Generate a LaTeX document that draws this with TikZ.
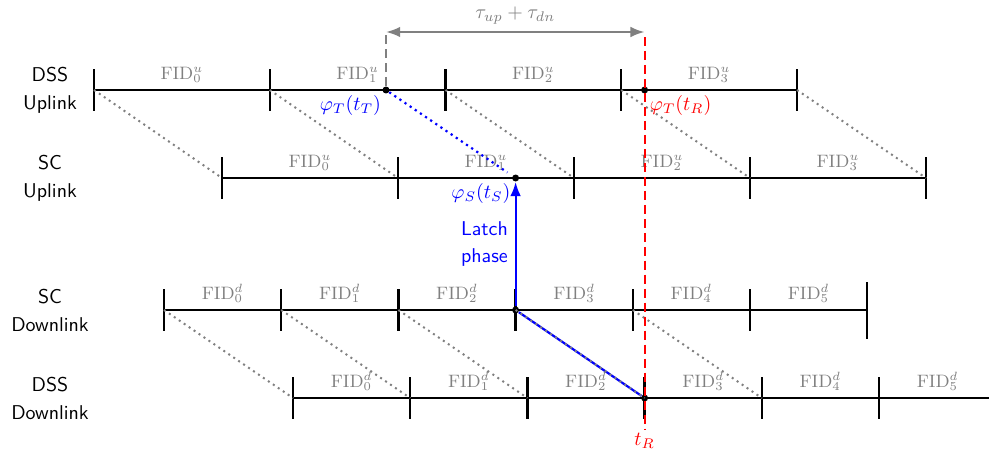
\documentclass[tikz,border=0pt]{standalone}
\usepackage{amsmath}
\usetikzlibrary{arrows.meta,positioning}

\begin{document}
\begin{tikzpicture}[
    x=0.0176cm, y=-0.0176cm,
    rowname/.style={font=\sffamily, align=center},
    timeline/.style={line width=1.1pt},
    tickmark/.style={line width=1.2pt},
    fid/.style={above, text=gray, font=\small},
    delay/.style={gray, dotted, line width=1pt},
    dot/.style={circle, fill, inner sep=0pt, minimum size=3.5pt},
    arrow/.style={-{Latex[length=2.5mm]}, line width=1.1pt},
    marker/.style={dash pattern=on 4.5pt off 2.5pt, line width=1.1pt}
  ]
  \useasboundingbox (0,0) rectangle (989,450);

  \node[rowname] (dssul) at (50,90) {DSS\\[2pt]Uplink};
  \node[rowname] (scul) at (50,178) {SC\\[2pt]Uplink};
  \node[rowname] (scdl) at (50,310) {SC\\[2pt]Downlink};
  \node[rowname] (dssdl) at (50,398) {DSS\\[2pt]Downlink};

  \foreach \i in {0,...,4} {
    \coordinate (ul\i) at ({94+175.75*\i},90);
    \coordinate (su\i) at ({222+176*\i},178);
    \draw[tickmark] (ul\i) ++(0,-21) -- ++(0,42);
    \draw[tickmark] (su\i) ++(0,-21) -- ++(0,42);
  }
  \foreach \i in {0,...,6} {
    \coordinate (sd\i) at ({164+117.2*\i},310);
    \coordinate (dd\i) at ({293+117.2*\i},398);
  }
  \foreach \i in {0,...,5} {
    \draw[tickmark] (sd\i) ++(0,-21) -- ++(0,42);
    \draw[tickmark] (dd\i) ++(0,-21) -- ++(0,42);
  }
  \draw[tickmark] (sd6) ++(0,-28) -- ++(0,57);

  \draw[timeline] (ul0) -- (ul4);
  \draw[timeline] (su0) -- (su4);
  \draw[timeline] (sd0) -- (sd6);
  \draw[timeline] (dd0) -- (dd6);

  \foreach \i in {0,...,3} {
    \node[fid] (ulf\i) at ({94+175.75*(\i+0.5)},90) {$\mathrm{FID}_{\i}^{u}$};
    \node[fid] (suf\i) at ({222+176*(\i+0.5)},178) {$\mathrm{FID}_{\i}^{u}$};
  }
  \foreach \i in {0,...,5} {
    \node[fid] (sdf\i) at ({164+117.2*(\i+0.5)},310) {$\mathrm{FID}_{\i}^{d}$};
    \node[fid] (ddf\i) at ({293+117.2*(\i+0.5)},398) {$\mathrm{FID}_{\i}^{d}$};
  }

  \node[dot] (tT) at (386,90) {};
  \node[dot] (tR) at (644.6,90) {};
  \node[dot] (tS) at (515.6,178) {};
  \node[dot] (sS) at (sd3) {};
  \node[dot] (rR) at (dd3) {};

  \coordinate (tauL) at (386,32);
  \coordinate (tauR) at (644.6,32);
  \coordinate (rtop) at (644.6,37);
  \coordinate (rbot) at (644.6,429);

  \draw[blue, line width=1.1pt] (sS) -- (rR);
  \foreach \i in {0,...,4} {
    \draw[delay] (ul\i) -- (su\i);
    \draw[delay] (sd\i) -- (dd\i);
  }
  \draw[blue, dotted, line width=1.1pt, shorten >=3pt] (tT) -- (tS);

  \draw[gray, marker] (tT) -- (tauL);
  \draw[gray, line width=1.1pt, {Latex[length=2.5mm]}-{Latex[length=2.5mm]}] (tauL) -- (tauR)
    node[midway, above] (tau) {$\tau_{up}+\tau_{dn}$};
  \draw[red, marker] (rtop) -- (rbot);
  \node[red, below=1pt of rbot, inner sep=1pt] (tRlabel) {$t_R$};

  \draw[arrow, draw=blue, fill=blue] (sS) -- ([yshift=-4.5pt]tS)
    node[midway, left, rowname, text=blue] (latch) {Latch\\[2pt]phase};

  \node[blue, below left=0pt of tT, inner sep=1pt] (phiT) {$\varphi_T(t_T)$};
  \node[red, below right=0pt of tR, inner sep=1pt] (phiR) {$\varphi_T(t_R)$};
  \node[blue, below left=0pt of tS, inner sep=1pt] (phiS) {$\varphi_S(t_S)$};
\end{tikzpicture}
\end{document}
